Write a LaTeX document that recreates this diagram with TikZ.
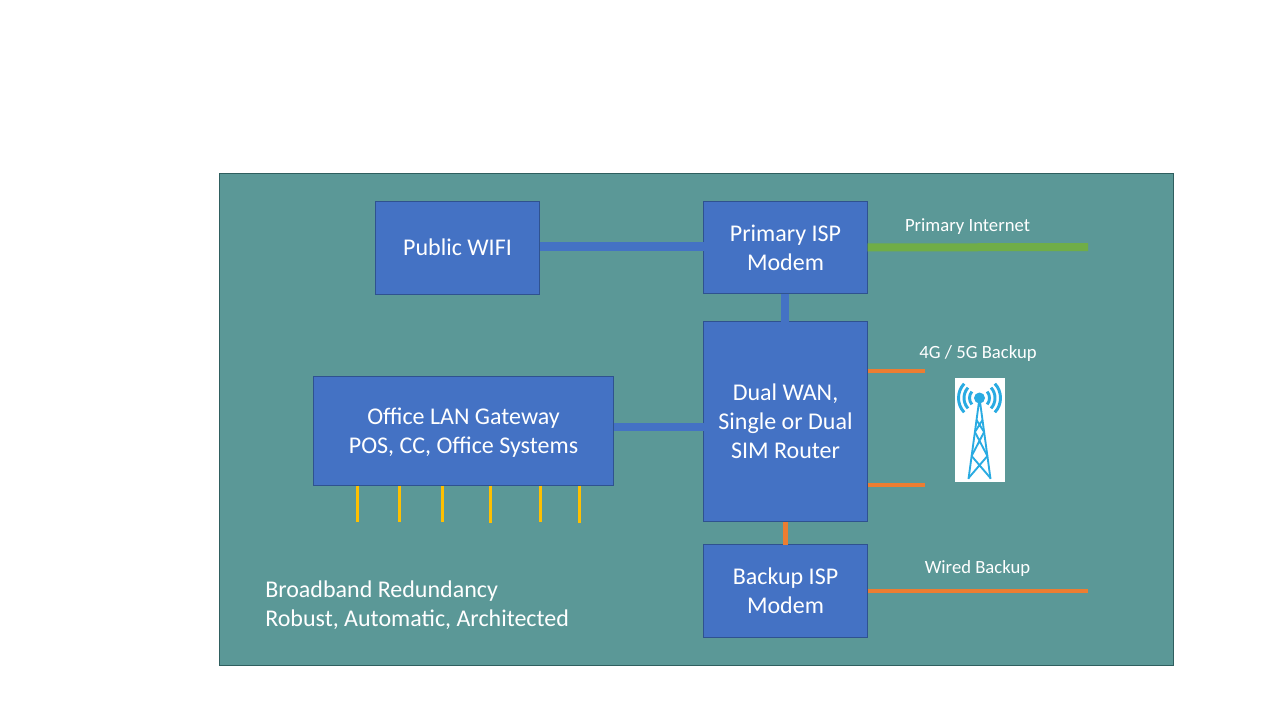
\documentclass[tikz,border=0pt]{standalone}
\usepackage{fontspec}
\setmainfont{Carlito}
\usepackage{xcolor}
\usetikzlibrary{calc}
\definecolor{panelteal}{HTML}{5B9897}
\definecolor{panelline}{HTML}{2F5F5F}
\definecolor{boxblue}{HTML}{4472C4}
\definecolor{boxline}{HTML}{2F528F}
\definecolor{linkorange}{HTML}{ED7D31}
\definecolor{linkgreen}{HTML}{70AD47}
\definecolor{stubyellow}{HTML}{FFC000}
\definecolor{towerblue}{HTML}{29ABE2}
\tikzset{
	box/.style={draw=boxline,fill=boxblue,line width=.75pt,text=white,align=center,inner sep=0pt,outer sep=0pt,font=\fontsize{18}{21.7}\selectfont},
	caption/.style={text=white,inner sep=0pt,font=\fontsize{14}{16}\selectfont},
	bluelink/.style={boxblue,line width=6.5pt},
	orangelink/.style={linkorange,line width=3pt},
	lanstub/.style={stubyellow,line width=2.25pt},
	towerline/.style={towerblue,line width=1.4pt},
	towerwave/.style={towerblue,line width=2.2pt}
}
\begin{document}
\begin{tikzpicture}[x=.75pt,y=-.75pt]
	\useasboundingbox (0,0) rectangle (1280,720);
	\fill[white] (0,0) rectangle (1280,720);
	\filldraw[fill=panelteal,draw=panelline,line width=.75pt] (219.5,173.5) rectangle (1173.5,665.5);
	% boxes
	\node[box,minimum width=123pt,minimum height=69.5pt] (wifi) at (457.5,247.7) {Public WIFI};
	\node[box,minimum width=123pt,minimum height=69pt] (primary) at (785.5,247.5) {Primary ISP\\Modem};
	\node[box,minimum width=123pt,minimum height=150pt] (router) at (785.5,421.5) {Dual WAN,\\Single or Dual\\SIM Router};
	\node[box,minimum width=123pt,minimum height=69.5pt] (backup) at (785.5,591) {Backup ISP\\Modem};
	\node[box,minimum width=225pt,minimum height=81.75pt] (lan) at (463.5,431) {\rule{0pt}{15pt}Office LAN Gateway\\POS, CC, Office Systems};
	% free ends
	\coordinate (inetend) at (1088,247);
	\coordinate (wiredend) at (1088,591);
	\coordinate (cellupper) at (925,371);
	\coordinate (celllower) at (925,485);
	% links
	\draw[bluelink] ([yshift=1pt]wifi.east) -- ([yshift=1pt]wifi.east -| primary.west);
	\draw[boxblue,line width=6pt] ([xshift=-.4pt]primary.south) -- ([xshift=-.4pt]router.north);
	\draw[boxblue,line width=6pt] ([yshift=3pt]lan.east) -- ([yshift=3pt]lan.east -| router.west);
	\draw[linkorange,line width=3.8pt] (router.south) -- (backup.north);
	\draw[linkgreen,line width=6pt] (primary.east) -- (inetend);
	\draw[orangelink] (backup.east) -- (wiredend);
	\draw[orangelink] (cellupper -| router.east) -- (cellupper);
	\draw[orangelink] (celllower -| router.east) -- (celllower);
	\foreach \x/\e [count=\n] in {357.5/522,399.5/522,442.5/522,490.5/523,540.5/522,579.5/523}{
		\coordinate (stub\n) at (\x,\e);
		\draw[lanstub] (stub\n |- lan.south) -- (stub\n);
	}
	% tower
	\fill[white] (955,378) rectangle (1005,482);
	\coordinate (mast) at (979.5,398);
	\fill[towerblue] (mast) circle (5.5);
	\draw[towerline] (mast) -- (968.5,479) (mast) -- (990.5,479);
	\foreach \ya/\da/\yb/\db in {420/3/432/4.6,432/4.6/456/7.9,456/7.9/478/10.9}{
		\draw[towerline] (979.5-\da,\ya) -- (979.5+\db,\yb) (979.5+\da,\ya) -- (979.5-\db,\yb);
	}
	\foreach \r/\a in {10/40,15.5/42,21/43}{
		\draw[towerwave] ($(mast)+(180-\a:\r)$) arc (180-\a:180+\a:\r);
		\draw[towerwave] ($(mast)+(-\a:\r)$) arc (-\a:\a:\r);
	}
	% captions
	\node[caption] (inetlabel) at (967.5,227) {Primary Internet};
	\node[caption] (celllabel) at (978,354) {4G / 5G Backup};
	\node[caption] (wiredlabel) at (977.5,569) {Wired Backup};
	\node[caption,anchor=north west,align=left,font=\fontsize{18}{21.7}\selectfont] (slogan) at (265,581) {Broadband Redundancy\\Robust, Automatic, Architected};
\end{tikzpicture}
\end{document}
